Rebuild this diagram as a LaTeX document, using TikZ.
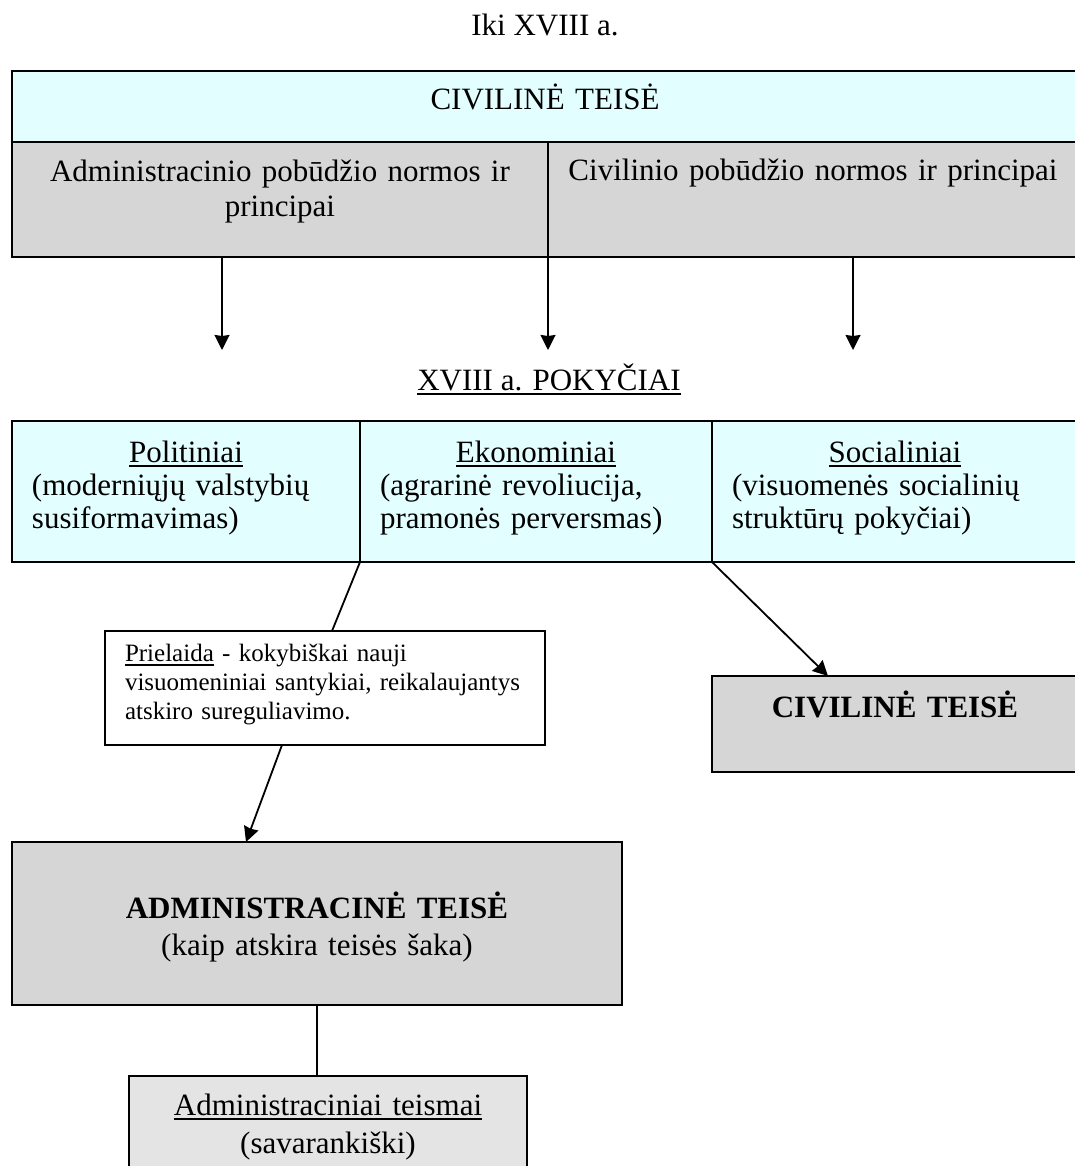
\documentclass[tikz,border=0pt]{standalone}
\usepackage{fontspec}
\setmainfont{Liberation Serif}
\usetikzlibrary{arrows.meta, positioning, calc}

\definecolor{cyanfill}{RGB}{226,254,254}
\definecolor{grayfill}{RGB}{214,214,214}
\definecolor{lightgrayfill}{RGB}{228,228,228}

\newcommand{\mainsize}{\fontsize{15.5pt}{16.5pt}\selectfont}
\newcommand{\smallsize}{\fontsize{12.5pt}{14.5pt}\selectfont\hyphenpenalty=10000}
\newcommand{\ulword}[1]{\setbox0=\hbox{#1}\rlap{\rule[-2.4pt]{\wd0}{0.8pt}}\box0\relax}

\begin{document}
\begin{tikzpicture}[
  x=0.5pt, y=-0.5pt,
  cell/.style      = {rectangle, draw=black, line width=0.9pt, inner sep=0pt, outer sep=0pt,
                      anchor=north west, font=\mainsize},
  cellCYAN/.style  = {cell, fill=cyanfill},
  cellGRAY/.style  = {cell, fill=grayfill},
  cellLIGHT/.style = {cell, fill=lightgrayfill},
  cellNOTE/.style  = {cell, fill=white, font=\smallsize},
  plain/.style     = {font=\mainsize, anchor=base},
  arr/.style       = {-{Stealth[length=7.5pt, width=7.5pt, inset=0.5pt]}, line width=0.9pt},
  link/.style      = {line width=0.9pt},
]
\useasboundingbox (0,0) rectangle (1075,1166);

\node[plain] (iki) at (545,36) {Iki XVIII a.};

%% Iki XVIII a.: civiline teise
\node[cellCYAN, text width=533pt, align=center, text height=19.5pt, text depth=16pt]
  (civtop) at (12,71) {CIVILINĖ TEISĖ};
\node[cellGRAY, text width=268pt, align=center, text height=20pt, text depth=37.5pt]
  (admnorm) at (12,142) {Administracinio pobūdžio normos ir\\[1pt]principai};
\node[cellGRAY, text width=265pt, align=center, text height=19.5pt, text depth=38pt]
  (civnorm) at (548,142) {Civilinio pobūdžio normos ir principai};

%% Arrows down to the changes
\coordinate (tipA) at (222,350);
\coordinate (tipB) at (548,350);
\coordinate (tipC) at (853,350);
\foreach \a/\b in {admnorm.south -| tipA/tipA, admnorm.south east/admnorm.south east |- tipB,
                   civnorm.south -| tipC/tipC}
  \draw[arr] (\a) -- (\b);

\node[plain] (pokyciai) at (549,390) {\ulword{XVIII a. POKYČIAI}};

%% XVIII a. pokyciai
\node[cellCYAN, text width=154pt, inner xsep=10pt, align=left, text height=20.5pt, text depth=50pt]
  (politiniai) at (12,421)
  {\makebox[\linewidth]{\ulword{Politiniai}}\\(moderniųjų valstybių\\susiformavimas)};
\node[cellCYAN, text width=156pt, inner xsep=10pt, align=left, text height=20.5pt, text depth=50pt]
  (ekonominiai) at (360,421)
  {\makebox[\linewidth]{\ulword{Ekonominiai}}\\(agrarinė revoliucija,\\pramonės perversmas)};
\node[cellCYAN, text width=163pt, inner xsep=10pt, align=left, text height=20.5pt, text depth=50pt]
  (socialiniai) at (712,421)
  {\makebox[\linewidth]{\ulword{Socialiniai}}\\(visuomenės socialinių\\struktūrų pokyčiai)};

%% Prielaida
\node[cellNOTE, text width=200pt, inner xsep=10pt, align=left, text height=15pt, text depth=42pt]
  (prielaida) at (105,631)
  {\ulword{Prielaida} - kokybiškai nauji\\visuomeniniai santykiai, reikalaujantys\\atskiro sureguliavimo.};

\node[cellGRAY, text width=183pt, align=center, text height=20.5pt, text depth=27.5pt]
  (civbold) at (712,676) {\textbf{CIVILINĖ TEISĖ}};

\node[cellGRAY, text width=305pt, align=center, text height=38pt, text depth=43.5pt]
  (admteise) at (12,842)
  {\textbf{ADMINISTRACINĖ TEISĖ}\\[2pt](kaip atskira teisės šaka)};

\node[cellLIGHT, text width=199pt, align=center, text height=19.5pt, text depth=32.5pt]
  (teismai) at (129,1076)
  {\ulword{Administraciniai teismai}\\[2.5pt](savarankiški)};

%% Connectors
\draw[link] (ekonominiai.south west) -- ($(prielaida.north west)+(227,0)$);
\draw[arr] (socialiniai.south west) -- ($(civbold.north west)+(116,0)$);
\draw[arr] ($(prielaida.south west)+(177,0)$) -- ($(admteise.north west)+(234,0)$);
\draw[link] (admteise.south) -- (admteise.south |- teismai.north);

\end{tikzpicture}
\end{document}
